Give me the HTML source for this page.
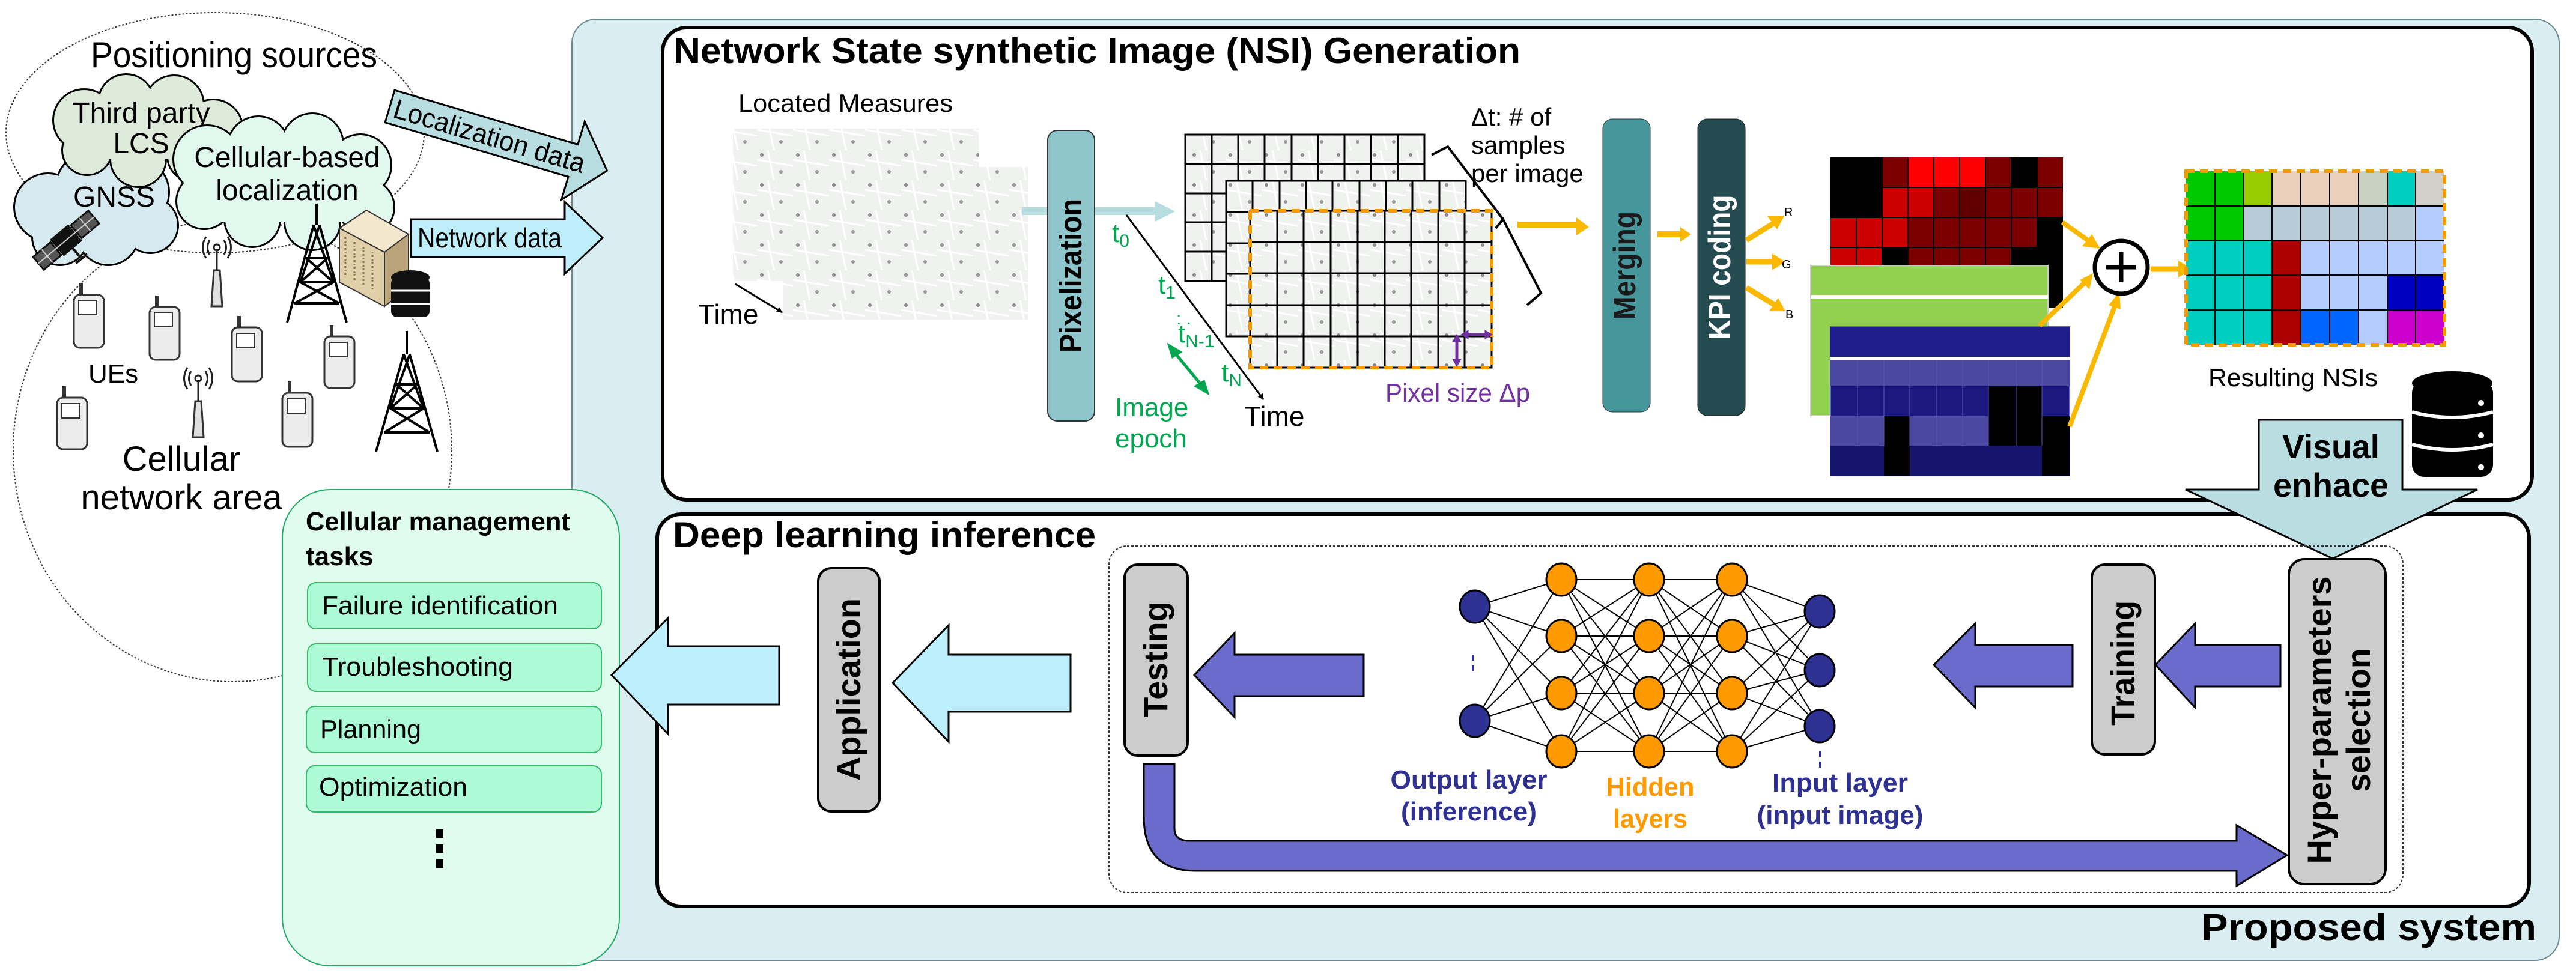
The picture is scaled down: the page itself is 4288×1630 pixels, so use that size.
<!DOCTYPE html>
<html><head><meta charset="utf-8"><style>html,body{margin:0;padding:0;background:#fff}svg{display:block}text{font-family:"Liberation Sans",sans-serif}</style></head>
<body>
<svg width="4288" height="1630" viewBox="0 0 4288 1630" xmlns="http://www.w3.org/2000/svg">
<defs>
<pattern id="map" width="60" height="50" patternUnits="userSpaceOnUse">
<rect width="60" height="50" fill="#f0f2f0"/>
<path d="M0 16 L60 26 M18 0 L28 50" stroke="#ffffff" stroke-width="3"/>
<circle cx="8" cy="8" r="3" fill="#8c8c8c"/><circle cx="40" cy="36" r="3" fill="#999"/>
</pattern>
<marker id="ah" markerWidth="10" markerHeight="10" refX="9" refY="5" orient="auto" markerUnits="userSpaceOnUse" viewBox="0 0 10 10"><path d="M0 0 L10 5 L0 10 Z" fill="#000"/></marker>
</defs>

<!-- Proposed system outer -->
<rect x="952" y="32" width="3308" height="1567" rx="40" fill="#daedf0" stroke="#6a8a8f" stroke-width="2"/>
<text x="3664" y="1565" font-size="62" font-weight="bold" textLength="558" lengthAdjust="spacingAndGlyphs">Proposed system</text>

<!-- Left ellipses -->
<ellipse cx="358" cy="221" rx="348" ry="200" fill="none" stroke="#333" stroke-width="2" stroke-dasharray="3 3"/>
<ellipse cx="387" cy="750" rx="365" ry="385" fill="none" stroke="#333" stroke-width="2" stroke-dasharray="3 3"/>
<text x="151" y="112" font-size="60" textLength="477" lengthAdjust="spacingAndGlyphs">Positioning sources</text>

<!-- clouds: GNSS -->
<g stroke="#000" stroke-width="6">
<circle cx="80" cy="345" r="55"/><circle cx="150" cy="310" r="55"/><circle cx="225" cy="320" r="55"/><circle cx="250" cy="375" r="45"/><circle cx="180" cy="390" r="50"/><circle cx="100" cy="395" r="45"/>
</g>
<g fill="#d6e9ee">
<circle cx="80" cy="345" r="55"/><circle cx="150" cy="310" r="55"/><circle cx="225" cy="320" r="55"/><circle cx="250" cy="375" r="45"/><circle cx="180" cy="390" r="50"/><circle cx="100" cy="395" r="45"/><rect x="80" y="320" width="170" height="70"/>
</g>
<text x="190" y="344" font-size="48" text-anchor="middle">GNSS</text>
<!-- Third party LCS -->
<g stroke="#000" stroke-width="6">
<circle cx="140" cy="200" r="50"/><circle cx="210" cy="170" r="45"/><circle cx="290" cy="175" r="48"/><circle cx="355" cy="215" r="48"/><circle cx="320" cy="260" r="40"/><circle cx="230" cy="265" r="45"/><circle cx="145" cy="250" r="40"/>
</g>
<g fill="#dde9d9">
<circle cx="140" cy="200" r="50"/><circle cx="210" cy="170" r="45"/><circle cx="290" cy="175" r="48"/><circle cx="355" cy="215" r="48"/><circle cx="320" cy="260" r="40"/><circle cx="230" cy="265" r="45"/><circle cx="145" cy="250" r="40"/><rect x="140" y="170" width="215" height="95"/>
</g>
<text x="235" y="204" font-size="48" text-anchor="middle">Third party</text>
<text x="235" y="255" font-size="48" text-anchor="middle">LCS</text>
<!-- Cellular-based -->
<g stroke="#000" stroke-width="6">
<circle cx="345" cy="265" r="55"/><circle cx="430" cy="245" r="50"/><circle cx="520" cy="240" r="50"/><circle cx="600" cy="275" r="50"/><circle cx="610" cy="345" r="45"/><circle cx="520" cy="370" r="45"/><circle cx="420" cy="365" r="45"/><circle cx="340" cy="335" r="45"/>
</g>
<g fill="#e0f8ee">
<circle cx="345" cy="265" r="55"/><circle cx="430" cy="245" r="50"/><circle cx="520" cy="240" r="50"/><circle cx="600" cy="275" r="50"/><circle cx="610" cy="345" r="45"/><circle cx="520" cy="370" r="45"/><circle cx="420" cy="365" r="45"/><circle cx="340" cy="335" r="45"/><rect x="340" y="245" width="270" height="125"/>
</g>
<text x="478" y="278" font-size="48" text-anchor="middle">Cellular-based</text>
<text x="478" y="333" font-size="48" text-anchor="middle">localization</text>

<!-- Localization data arrow -->
<g transform="translate(649,177) rotate(16.5)">
<path d="M0 -28 L318 -28 L318 -68 L377 0 L318 68 L318 28 L0 28 Z" fill="#b8dde0" stroke="#000" stroke-width="3"/>
<text x="8" y="16" font-size="46" textLength="330" lengthAdjust="spacingAndGlyphs">Localization data</text>
</g>
<!-- Network data arrow -->
<path d="M684 365 L940 365 L940 336 L1003 396 L940 456 L940 428 L684 428 Z" fill="#bfeefb" stroke="#000" stroke-width="3"/>
<text x="695" y="412" font-size="46" textLength="240" lengthAdjust="spacingAndGlyphs">Network data</text>

<!-- satellite -->
<g transform="translate(110,400) rotate(-40)">
<rect x="-60" y="-14" width="38" height="28" fill="#555" stroke="#111" stroke-width="3"/>
<rect x="22" y="-14" width="38" height="28" fill="#555" stroke="#111" stroke-width="3"/>
<rect x="-20" y="-18" width="40" height="36" fill="#111"/>
<path d="M-60 0 H60 M-41 -14 V14 M41 -14 V14" stroke="#ccc" stroke-width="2"/>
<path d="M0 18 L0 40 M-12 40 L12 40" stroke="#111" stroke-width="4"/>
</g>

<!-- towers -->
<g stroke="#000" stroke-width="4" fill="none">
<path d="M527 339 L527 375 M522 375 L478 537 M532 375 L577 537 M510 430 L545 430 M500 470 L555 470 M490 505 L565 505 M522 375 L555 470 L490 505 M532 375 L500 470 L565 505 M510 430 L555 470 M545 430 L500 470"/>
<path d="M677 551 L677 590 M672 590 L626 752 M682 590 L728 752 M660 640 L695 640 M650 680 L705 680 M640 720 L715 720 M672 590 L705 680 L640 720 M682 590 L650 680 L715 720 M660 640 L705 680 M695 640 L650 680"/>
</g>
<!-- server -->
<polygon points="565,380 610,350 680,390 640,420" fill="#f3e8cf" stroke="#333" stroke-width="2"/>
<polygon points="565,380 640,420 640,510 565,470" fill="#e0cfa8" stroke="#333" stroke-width="2"/>
<polygon points="640,420 680,390 680,480 640,510" fill="#b9a479" stroke="#333" stroke-width="2"/>
<path d="M575 395 V460 M590 403 V470 M605 411 V476 M620 419 V484" stroke="#8a7a55" stroke-width="3" stroke-dasharray="3 3"/>
<!-- small db -->
<g fill="#111">
<rect x="651" y="462" width="64" height="66" rx="10"/>
<ellipse cx="683" cy="462" rx="32" ry="12"/>
</g>
<path d="M651 484 H715 M651 506 H715" stroke="#fff" stroke-width="3"/>

<!-- antennas -->
<g fill="#e0e0e0" stroke="#333" stroke-width="3">
<path d="M352 510 L356 450 L366 450 L370 510 Z"/><path d="M321 728 L325 668 L335 668 L339 728 Z"/>
</g>
<g fill="none" stroke="#222" stroke-width="3">
<path d="M361 450 V415"/><circle cx="361" cy="412" r="5"/><path d="M349 400 Q342 412 349 424 M373 400 Q380 412 373 424 M343 394 Q332 412 343 430 M379 394 Q390 412 379 430"/>
<path d="M330 668 V633"/><circle cx="330" cy="630" r="5"/><path d="M318 618 Q311 630 318 642 M342 618 Q349 630 342 642 M312 612 Q301 630 312 648 M348 612 Q359 630 348 648"/>
</g>
<!-- phones -->
<g fill="#ececec" stroke="#333" stroke-width="3">
<rect x="123" y="491" width="50" height="88" rx="10"/><rect x="249" y="511" width="50" height="88" rx="10"/><rect x="386" y="545" width="50" height="90" rx="10"/><rect x="540" y="560" width="50" height="86" rx="10"/><rect x="95" y="662" width="50" height="86" rx="10"/><rect x="470" y="654" width="50" height="90" rx="10"/>
</g>
<g fill="#fff" stroke="#333" stroke-width="2">
<rect x="131" y="500" width="30" height="24"/><rect x="257" y="520" width="30" height="24"/><rect x="394" y="555" width="30" height="24"/><rect x="548" y="570" width="30" height="24"/><rect x="103" y="672" width="30" height="24"/><rect x="478" y="664" width="30" height="24"/>
</g>
<g stroke="#333" stroke-width="6">
<path d="M135 491 V472 M261 511 V492 M398 545 V526 M552 560 V541 M107 662 V643 M482 654 V635"/>
</g>
<text x="147" y="637" font-size="44">UEs</text>
<text x="302" y="784" font-size="58" text-anchor="middle">Cellular</text>
<text x="302" y="848" font-size="58" text-anchor="middle">network area</text>

<!-- Cellular management tasks -->
<rect x="470" y="815" width="561" height="793" rx="80" fill="#e0fcef" stroke="#22aa66" stroke-width="2"/>
<text x="509" y="883" font-size="44" font-weight="bold" textLength="440" lengthAdjust="spacingAndGlyphs">Cellular management</text>
<text x="509" y="941" font-size="44" font-weight="bold">tasks</text>
<g fill="#adfad7" stroke="#33bb66" stroke-width="2">
<rect x="512" y="970" width="489" height="77" rx="14"/><rect x="512" y="1072" width="489" height="79" rx="14"/><rect x="510" y="1176" width="491" height="77" rx="14"/><rect x="510" y="1275" width="491" height="77" rx="14"/>
</g>
<g font-size="44">
<text x="536" y="1023" textLength="393" lengthAdjust="spacingAndGlyphs">Failure identification</text>
<text x="536" y="1125" textLength="318" lengthAdjust="spacingAndGlyphs">Troubleshooting</text>
<text x="533" y="1229" textLength="168" lengthAdjust="spacingAndGlyphs">Planning</text>
<text x="531" y="1325" textLength="247" lengthAdjust="spacingAndGlyphs">Optimization</text>
</g>
<g fill="#000"><rect x="726" y="1381" width="12" height="14"/><rect x="726" y="1406" width="12" height="14"/><rect x="726" y="1431" width="12" height="14"/></g>

<!-- NSI box -->
<rect x="1103" y="46" width="3112" height="786" rx="40" fill="#fff" stroke="#000" stroke-width="6"/>
<text x="1121" y="105" font-size="60" font-weight="bold" textLength="1410" lengthAdjust="spacingAndGlyphs">Network State synthetic Image (NSI) Generation</text>

<text x="1229" y="186" font-size="42" textLength="357" lengthAdjust="spacingAndGlyphs">Located Measures</text>
<rect x="1220" y="214" width="409" height="254" fill="url(#map)"/>
<rect x="1304" y="278" width="408" height="254" fill="url(#map)"/>
<text x="1162" y="539" font-size="46">Time</text>
<line x1="1224" y1="473" x2="1302" y2="520" stroke="#000" stroke-width="3" marker-end="url(#ah)"/>

<!-- pixelization arrow + bar -->
<path d="M1701 345 L1923 345 L1923 335 L1956 352 L1923 369 L1923 358 L1701 358 Z" fill="#b8dde0"/>
<rect x="1744" y="217" width="78" height="484" rx="16" fill="#8fc6cc" stroke="#333" stroke-width="2"/>
<text transform="translate(1800,459) rotate(-90)" font-size="52" font-weight="bold" text-anchor="middle" textLength="256" lengthAdjust="spacingAndGlyphs">Pixelization</text>

<!-- time axis -->
<line x1="1875" y1="358" x2="2103" y2="665" stroke="#000" stroke-width="3" marker-end="url(#ah)"/>
<g fill="#00a650" font-size="44">
<text x="1851" y="403">t<tspan font-size="30" dy="8">0</tspan></text>
<text x="1928" y="489">t<tspan font-size="30" dy="8">1</tspan></text>
<text x="1958" y="540" font-size="30">: .</text>
<text x="1961" y="570">t<tspan font-size="30" dy="8">N-1</tspan></text>
<text x="2033" y="635">t<tspan font-size="30" dy="8">N</tspan></text>
<text x="1856" y="693">Image</text>
<text x="1856" y="745">epoch</text>
</g>
<path d="M1952 583 L2004 646" stroke="#00a650" stroke-width="5"/>
<path d="M1946 575 L1965 586 L1952 594 Z M2010 654 L1991 643 L2004 635 Z" fill="#00a650" stroke="#00a650" stroke-width="4"/>
<text x="2071" y="709" font-size="46">Time</text>

<!-- stacked grids -->
<g stroke="#000" stroke-width="3" fill="none">
<rect x="1973" y="224" width="398" height="244" fill="url(#map)"/>
<path d="M2017 224 V468 M2061 224 V468 M2105 224 V468 M2150 224 V468 M2194 224 V468 M2238 224 V468 M2282 224 V468 M2327 224 V468 M1973 273 H2371 M1973 322 H2371 M1973 370 H2371 M1973 419 H2371"/>
<rect x="2041" y="301" width="399" height="259" fill="url(#map)"/>
<path d="M2085 301 V560 M2130 301 V560 M2174 301 V560 M2218 301 V560 M2263 301 V560 M2307 301 V560 M2351 301 V560 M2396 301 V560 M2041 353 H2440 M2041 405 H2440 M2041 456 H2440 M2041 508 H2440"/>
<rect x="2081" y="351" width="402" height="261" fill="url(#map)"/>
<path d="M2126 351 V612 M2170 351 V612 M2215 351 V612 M2260 351 V612 M2305 351 V612 M2349 351 V612 M2394 351 V612 M2438 351 V612 M2081 403 H2483 M2081 455 H2483 M2081 508 H2483 M2081 560 H2483"/>
</g>
<rect x="2081" y="351" width="402" height="261" fill="none" stroke="#f59b00" stroke-width="6" stroke-dasharray="14 9"/>
<g stroke="#7030a0" stroke-width="5" fill="#7030a0">
<path d="M2440 557 H2480 M2425 562 V606"/>
<path d="M2432 557 L2444 550 L2444 564 Z M2425 557 L2418 569 L2432 569 Z M2425 610 L2418 598 L2432 598 Z M2484 557 L2472 550 L2472 564 Z" stroke-width="1"/>
</g>
<text x="2306" y="669" font-size="44" fill="#7030a0" textLength="241" lengthAdjust="spacingAndGlyphs">Pixel size Δp</text>
<g font-size="42"><text x="2449" y="209">Δt: # of</text><text x="2449" y="256">samples</text><text x="2449" y="303">per image</text></g>
<path d="M2383 258 L2410 244 L2502 365 L2490 380 L2502 365 L2565 488 L2542 508" fill="none" stroke="#000" stroke-width="4"/>
<!-- orange arrow to merging -->
<path d="M2526 374 H2630" stroke="#fbb800" stroke-width="10"/><path d="M2624 362 L2645 378 L2624 392 Z" fill="#fbb800"/>
<rect x="2668" y="198" width="79" height="488" rx="16" fill="#46969c" stroke="#333" stroke-width="1"/>
<text transform="translate(2722,442) rotate(-90)" font-size="52" font-weight="bold" fill="#1a1a1a" text-anchor="middle" textLength="180" lengthAdjust="spacingAndGlyphs">Merging</text>
<path d="M2759 390 H2800" stroke="#fbb800" stroke-width="10"/><path d="M2797 378 L2815 390 L2797 403 Z" fill="#fbb800"/>
<rect x="2826" y="198" width="79" height="494" rx="16" fill="#234b50" stroke="#222" stroke-width="1"/>
<text transform="translate(2880,445) rotate(-90)" font-size="52" font-weight="bold" fill="#fff" text-anchor="middle" textLength="241" lengthAdjust="spacingAndGlyphs">KPI coding</text>
<g stroke="#fbb800" stroke-width="9" fill="none"><path d="M2907 400 L2955 370 M2907 436 H2955 M2907 479 L2955 508"/></g>
<g fill="#fbb800"><path d="M2970 360 L2942 360 L2958 382 Z M2972 436 L2950 422 L2950 450 Z M2972 518 L2945 518 L2960 496 Z"/></g>
<g font-size="20"><text x="2970" y="360">R</text><text x="2966" y="447">G</text><text x="2972" y="530">B</text></g>

<!-- red grid -->
<rect x="3047" y="262" width="387" height="250" fill="#000"/>
<g>
<rect x="3133" y="262" width="43" height="50" fill="#7a0000"/><rect x="3176" y="262" width="129" height="50" fill="#ff0000"/><rect x="3305" y="262" width="43" height="50" fill="#7a0000"/><rect x="3391" y="262" width="43" height="50" fill="#7a0000"/>
<rect x="3133" y="312" width="86" height="50" fill="#cc0000"/><rect x="3219" y="312" width="43" height="50" fill="#7a0000"/><rect x="3262" y="312" width="43" height="50" fill="#600000"/><rect x="3305" y="312" width="129" height="50" fill="#7a0000"/>
<rect x="3047" y="362" width="129" height="50" fill="#cc0000"/><rect x="3176" y="362" width="215" height="50" fill="#7a0000"/>
<rect x="3047" y="412" width="86" height="50" fill="#cc0000"/><rect x="3176" y="412" width="172" height="50" fill="#7a0000"/>
</g>
<path d="M3133 262 V512 M3176 262 V512 M3219 262 V512 M3262 262 V512 M3305 262 V512 M3348 262 V512 M3391 262 V512 M3047 312 H3434 M3047 362 H3434 M3047 412 H3434 M3090 362 V512" stroke="#000" stroke-width="2"/>
<!-- green -->
<rect x="3014" y="442" width="395" height="250" fill="#92d050" stroke="#ccc" stroke-width="2"/>
<rect x="3014" y="491" width="395" height="6" fill="#fff"/>
<!-- blue grid -->
<rect x="3047" y="544" width="398" height="248" fill="#1c1a80" stroke="#6666cc" stroke-width="2"/>
<rect x="3047" y="544" width="398" height="50" fill="#1f1d8c"/>
<rect x="3047" y="594" width="398" height="6" fill="#fff"/>
<rect x="3047" y="600" width="398" height="43" fill="#4a48a0"/>
<rect x="3310" y="643" width="89" height="50" fill="#000"/>
<rect x="3047" y="693" width="89" height="49" fill="#4a48a0"/><rect x="3136" y="693" width="43" height="49" fill="#000"/><rect x="3179" y="693" width="131" height="49" fill="#4a48a0"/><rect x="3310" y="693" width="135" height="49" fill="#000"/>
<rect x="3047" y="742" width="398" height="50" fill="#15156e"/><rect x="3136" y="742" width="43" height="50" fill="#000"/><rect x="3399" y="742" width="46" height="50" fill="#000"/>
<path d="M3092 600 V742 M3136 600 V742 M3179 600 V742 M3224 600 V742 M3267 600 V742 M3310 600 V742 M3356 600 V742 M3399 600 V742" stroke="#5a58b0" stroke-width="1"/>
<!-- arrows to plus -->
<g stroke="#fbb800" stroke-width="8" fill="none"><path d="M3433 370 L3478 402 M3395 542 L3473 468 M3445 710 L3522 505"/></g>
<g fill="#fbb800"><path d="M3496 414 L3466 410 L3482 390 Z M3484 455 L3478 482 L3462 466 Z M3528 486 L3530 515 L3510 508 Z"/></g>
<circle cx="3531" cy="445" r="44" fill="#fff" stroke="#000" stroke-width="7"/>
<path d="M3531 420 V470 M3506 445 H3556" stroke="#000" stroke-width="7"/>
<path d="M3580 448 H3630" stroke="#fbb800" stroke-width="9"/><path d="M3626 434 L3650 448 L3626 462 Z" fill="#fbb800"/>
<!-- result NSI -->
<g>
<rect x="3639" y="285" width="96" height="116" fill="#00c800"/><rect x="3735" y="285" width="47" height="58" fill="#99cc00"/><rect x="3782" y="285" width="144" height="58" fill="#e8d0bc"/><rect x="3926" y="285" width="48" height="58" fill="#c8d0c0"/><rect x="3974" y="285" width="47" height="58" fill="#00cfc0"/><rect x="4021" y="285" width="48" height="58" fill="#d0d0c8"/>
<rect x="3735" y="343" width="286" height="58" fill="#b8ccd8"/><rect x="4021" y="343" width="48" height="58" fill="#b4ccff"/>
<rect x="3639" y="401" width="143" height="173" fill="#00cfc0"/><rect x="3782" y="401" width="48" height="173" fill="#aa0000"/>
<rect x="3830" y="401" width="239" height="115" fill="#b4ccff"/><rect x="3974" y="458" width="95" height="58" fill="#0000c0"/>
<rect x="3830" y="516" width="96" height="58" fill="#0066ff"/><rect x="3926" y="516" width="48" height="58" fill="#b4ccff"/><rect x="3974" y="516" width="95" height="58" fill="#cc00cc"/>
</g>
<path d="M3687 285 V574 M3735 285 V574 M3782 285 V574 M3830 285 V574 M3878 285 V574 M3926 285 V574 M3974 285 V574 M4021 285 V574 M3639 343 H4069 M3639 401 H4069 M3639 458 H4069 M3639 516 H4069" stroke="#000" stroke-width="2"/>
<rect x="3639" y="285" width="430" height="289" fill="none" stroke="#f59b00" stroke-width="6" stroke-dasharray="14 9"/>
<text x="3676" y="643" font-size="42" textLength="282" lengthAdjust="spacingAndGlyphs">Resulting NSIs</text>
<!-- big db -->
<g fill="#000"><rect x="4015" y="634" width="135" height="160" rx="20"/><ellipse cx="4082" cy="638" rx="67" ry="20"/></g>
<path d="M4015 686 Q4082 704 4150 686 M4015 740 Q4082 758 4150 740" stroke="#fff" stroke-width="6" fill="none"/>
<g fill="#fff"><circle cx="4130" cy="671" r="5"/><circle cx="4130" cy="725" r="5"/><circle cx="4130" cy="778" r="5"/></g>

<!-- Deep learning box -->
<rect x="1094" y="856" width="3116" height="653" rx="40" fill="#fff" stroke="#000" stroke-width="6"/>
<!-- visual enhance arrow -->
<path d="M3760 699 L3999 699 L3999 815 L4124 815 L3883 930 L3638 815 L3760 815 Z" fill="#b9dde0" stroke="#000" stroke-width="3"/>
<text x="3880" y="763" font-size="56" font-weight="bold" text-anchor="middle" textLength="162" lengthAdjust="spacingAndGlyphs">Visual</text>
<text x="3880" y="827" font-size="56" font-weight="bold" text-anchor="middle" textLength="192" lengthAdjust="spacingAndGlyphs">enhace</text>
<text x="1120" y="911" font-size="60" font-weight="bold" textLength="704" lengthAdjust="spacingAndGlyphs">Deep learning inference</text>

<!-- big left arrow -->
<path d="M1018 1124 L1112 1029 L1112 1076 L1297 1076 L1297 1173 L1112 1173 L1112 1222 Z" fill="#bdeefc" stroke="#000" stroke-width="3"/>
<rect x="1362" y="946" width="102" height="405" rx="22" fill="#cccccc" stroke="#000" stroke-width="4"/>
<text transform="translate(1432,1148) rotate(-90)" font-size="56" font-weight="bold" text-anchor="middle" textLength="304" lengthAdjust="spacingAndGlyphs">Application</text>
<path d="M1486 1137 L1579 1041 L1579 1090 L1782 1090 L1782 1185 L1579 1185 L1579 1235 Z" fill="#bdeefc" stroke="#000" stroke-width="3"/>

<!-- dashed inner -->
<rect x="1846" y="909" width="2154" height="577" rx="30" fill="none" stroke="#333" stroke-width="2" stroke-dasharray="4 3"/>
<rect x="1872" y="940" width="105" height="318" rx="22" fill="#cccccc" stroke="#000" stroke-width="4"/>
<text transform="translate(1943,1098) rotate(-90)" font-size="56" font-weight="bold" text-anchor="middle" textLength="193" lengthAdjust="spacingAndGlyphs">Testing</text>
<path d="M1988 1124 L2055 1054 L2055 1090 L2270 1090 L2270 1159 L2055 1159 L2055 1194 Z" fill="#6b6bcc" stroke="#000" stroke-width="3"/>
<path d="M1904 1272 L1955 1272 L1955 1380 Q1955 1400 1980 1400 L3723 1400 L3723 1374 L3807 1424 L3723 1475 L3723 1450 L1990 1450 Q1904 1450 1904 1360 Z" fill="#6b6bcc" stroke="#000" stroke-width="3"/>

<!-- neural net -->
<g stroke="#000" stroke-width="2">
<path d="M2455 1010 L2599 965 M2455 1010 L2599 1059 M2455 1010 L2599 1154 M2455 1010 L2599 1251 M2455 1200 L2599 965 M2455 1200 L2599 1059 M2455 1200 L2599 1154 M2455 1200 L2599 1251"/>
<path d="M2599 965 L2745 965 M2599 965 L2745 1059 M2599 965 L2745 1154 M2599 965 L2745 1251 M2599 1059 L2745 965 M2599 1059 L2745 1059 M2599 1059 L2745 1154 M2599 1059 L2745 1251 M2599 1154 L2745 965 M2599 1154 L2745 1059 M2599 1154 L2745 1154 M2599 1154 L2745 1251 M2599 1251 L2745 965 M2599 1251 L2745 1059 M2599 1251 L2745 1154 M2599 1251 L2745 1251"/>
<path d="M2745 965 L2883 965 M2745 965 L2883 1059 M2745 965 L2883 1154 M2745 965 L2883 1251 M2745 1059 L2883 965 M2745 1059 L2883 1059 M2745 1059 L2883 1154 M2745 1059 L2883 1251 M2745 1154 L2883 965 M2745 1154 L2883 1059 M2745 1154 L2883 1154 M2745 1154 L2883 1251 M2745 1251 L2883 965 M2745 1251 L2883 1059 M2745 1251 L2883 1154 M2745 1251 L2883 1251"/>
<path d="M2883 965 L3029 1018 M2883 965 L3029 1116 M2883 965 L3029 1209 M2883 1059 L3029 1018 M2883 1059 L3029 1116 M2883 1059 L3029 1209 M2883 1154 L3029 1018 M2883 1154 L3029 1116 M2883 1154 L3029 1209 M2883 1251 L3029 1018 M2883 1251 L3029 1116 M2883 1251 L3029 1209"/>
</g>
<g fill="#2e3192" stroke="#000" stroke-width="3">
<ellipse cx="2455" cy="1010" rx="25" ry="27"/><ellipse cx="2455" cy="1200" rx="25" ry="27"/>
<ellipse cx="3029" cy="1018" rx="25" ry="27"/><ellipse cx="3029" cy="1116" rx="25" ry="27"/><ellipse cx="3029" cy="1209" rx="25" ry="27"/>
</g>
<g fill="#ff9900" stroke="#000" stroke-width="3">
<ellipse cx="2599" cy="965" rx="25" ry="27"/><ellipse cx="2599" cy="1059" rx="25" ry="27"/><ellipse cx="2599" cy="1154" rx="25" ry="27"/><ellipse cx="2599" cy="1251" rx="25" ry="27"/>
<ellipse cx="2745" cy="965" rx="25" ry="27"/><ellipse cx="2745" cy="1059" rx="25" ry="27"/><ellipse cx="2745" cy="1154" rx="25" ry="27"/><ellipse cx="2745" cy="1251" rx="25" ry="27"/>
<ellipse cx="2883" cy="965" rx="25" ry="27"/><ellipse cx="2883" cy="1059" rx="25" ry="27"/><ellipse cx="2883" cy="1154" rx="25" ry="27"/><ellipse cx="2883" cy="1251" rx="25" ry="27"/>
</g>
<path d="M2452 1090 V1100 M2452 1108 V1118 M3030 1250 V1260 M3030 1268 V1278" stroke="#2e3192" stroke-width="4"/>
<g font-size="44" font-weight="bold" text-anchor="middle">
<text x="2445" y="1313" fill="#2e3192" textLength="261" lengthAdjust="spacingAndGlyphs">Output layer</text>
<text x="2445" y="1366" fill="#2e3192" textLength="226" lengthAdjust="spacingAndGlyphs">(inference)</text>
<text x="2747" y="1325" fill="#ff9900" textLength="147" lengthAdjust="spacingAndGlyphs">Hidden</text>
<text x="2747" y="1378" fill="#ff9900" textLength="124" lengthAdjust="spacingAndGlyphs">layers</text>
<text x="3063" y="1318" fill="#2e3192" textLength="226" lengthAdjust="spacingAndGlyphs">Input layer</text>
<text x="3063" y="1372" fill="#2e3192" textLength="277" lengthAdjust="spacingAndGlyphs">(input image)</text>
</g>
<path d="M3219 1107 L3288 1038 L3288 1074 L3450 1074 L3450 1143 L3288 1143 L3288 1178 Z" fill="#6b6bcc" stroke="#000" stroke-width="3"/>
<rect x="3482" y="940" width="105" height="316" rx="22" fill="#cccccc" stroke="#000" stroke-width="4"/>
<text transform="translate(3553,1104) rotate(-90)" font-size="56" font-weight="bold" text-anchor="middle" textLength="208" lengthAdjust="spacingAndGlyphs">Training</text>
<path d="M3588 1107 L3654 1038 L3654 1074 L3796 1074 L3796 1143 L3654 1143 L3654 1178 Z" fill="#6b6bcc" stroke="#000" stroke-width="3"/>
<rect x="3810" y="931" width="161" height="541" rx="26" fill="#cccccc" stroke="#000" stroke-width="4"/>
<text transform="translate(3880,1199) rotate(-90)" font-size="56" font-weight="bold" text-anchor="middle" textLength="479" lengthAdjust="spacingAndGlyphs">Hyper-parameters</text>
<text transform="translate(3945,1199) rotate(-90)" font-size="56" font-weight="bold" text-anchor="middle" textLength="239" lengthAdjust="spacingAndGlyphs">selection</text>
</svg>
</body></html>
